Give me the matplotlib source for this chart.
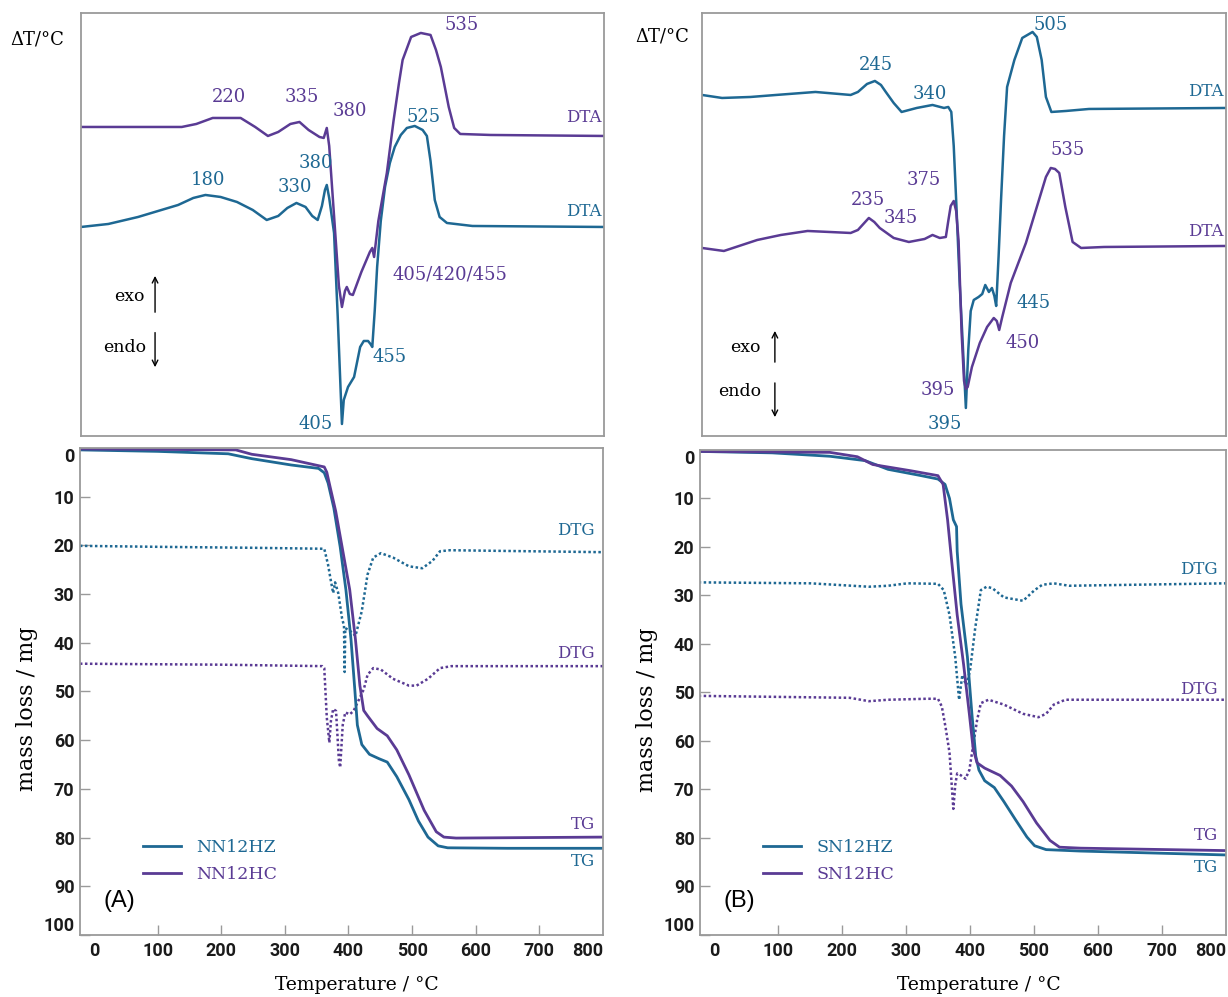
import matplotlib.pyplot as plt

# sample colours
c_hz = "#1e6893"
c_hc = "#5a3b94"
frame = "#9a9a9a"
serif = "DejaVu Serif"

# ---------- (A) DTA ----------
a_dta_hz_t = [-25, 20, 69, 135, 160, 180, 205, 232, 258, 281, 300, 315, 330, 345, 356, 365, 372, 377, 380,
              384, 392, 398, 405, 408, 415, 425, 435, 441, 448, 452, 455, 459, 463, 469, 476, 484, 492, 502,
              512, 525, 538, 545, 551, 558, 566, 578, 620, 838]
a_dta_hz_v = [20.9, 21.2, 21.9, 23.1, 23.8, 24.1, 23.9, 23.4, 22.6, 21.6, 22.0, 22.8, 23.3, 22.9, 22.0, 21.6,
              23.0, 24.6, 25.1, 23.8, 20.3, 12.0, 1.2, 3.6, 4.9, 5.9, 8.9, 9.5, 9.5, 9.2, 8.9, 12.5, 16.9,
              21.5, 24.9, 27.3, 28.9, 30.1, 30.8, 31.0, 30.6, 30.0, 27.5, 23.6, 21.9, 21.3, 21.0, 20.9]
a_dta_hc_t = [-25, 141, 165, 192, 238, 262, 283, 300, 320, 335, 350, 368, 375, 380, 384, 392, 400, 405, 410,
              413, 418, 423, 437, 451, 455, 458, 465, 479, 490, 499, 505, 519, 535, 551, 560, 568, 581, 590,
              600, 650, 838]
a_dta_hc_v = [30.9, 30.9, 31.2, 31.8, 31.8, 30.9, 30.0, 30.4, 31.2, 31.4, 30.6, 29.9, 29.8, 30.8, 29.0, 22.0,
              15.0, 12.9, 14.5, 14.9, 14.2, 14.1, 16.4, 18.4, 18.8, 17.9, 21.5, 26.3, 31.5, 35.3, 37.6, 39.9,
              40.3, 40.1, 38.6, 36.9, 32.9, 30.8, 30.2, 30.1, 30.0]

# ---------- (B) DTA ----------
b_dta_hz_t = [-40, -7, 40, 82, 147, 205, 217, 232, 245, 255, 263, 276, 289, 314, 340, 359, 366, 371, 375,
              379, 385, 389, 395, 399, 403, 408, 416, 422, 427, 433, 438, 442, 445, 449, 453, 458, 463, 475,
              488, 505, 512, 520, 527, 536, 560, 598, 824]
b_dta_hz_v = [34.1, 33.8, 33.9, 34.1, 34.4, 34.1, 34.4, 35.2, 35.5, 35.1, 34.4, 33.3, 32.4, 32.8, 33.1, 32.8,
              32.9, 32.4, 29.0, 23.6, 15.0, 10.3, 2.8, 8.6, 12.5, 13.6, 13.9, 14.2, 15.1, 14.4, 14.8, 14.0,
              13.0, 18.0, 23.6, 30.0, 34.9, 37.6, 39.8, 40.4, 39.9, 37.6, 33.9, 32.4, 32.5, 32.7, 32.8]
b_dta_hc_t = [-40, -4, 51, 90, 134, 170, 205, 217, 235, 244, 253, 276, 301, 327, 340, 352, 362, 366, 370,
              375, 379, 383, 388, 392, 395, 398, 405, 418, 430, 441, 446, 450, 455, 469, 494, 507, 527, 535,
              542, 549, 559, 571, 585, 623, 824]
b_dta_hc_v = [18.8, 18.5, 19.6, 20.1, 20.5, 20.4, 20.3, 20.6, 21.8, 21.4, 20.8, 19.8, 19.4, 19.7, 20.1, 19.8,
              19.9, 21.5, 23.0, 23.5, 22.5, 19.5, 10.3, 5.5, 4.7, 4.9, 6.9, 9.3, 10.9, 11.8, 11.5, 10.6, 11.9,
              15.3, 19.3, 21.9, 25.9, 26.8, 26.7, 26.3, 22.9, 19.4, 18.8, 18.9, 19.0]

# ---------- (A) TG / DTG ----------
a_tg_hz_t = [-22, 100, 211, 248, 310, 353, 362, 368, 377, 387, 396, 404, 410, 414, 421, 433, 448, 461, 476,
             495, 510, 525, 541, 556, 650, 800]
a_tg_hz_m = [0.4, 0.7, 1.2, 2.2, 3.5, 4.2, 5.1, 7.2, 12.3, 20.3, 29.1, 39.3, 49.6, 56.9, 60.9, 62.9, 63.8,
             64.5, 67.5, 72.2, 76.6, 79.9, 81.7, 82.1, 82.2, 82.2]
a_tg_hc_t = [-22, 100, 223, 248, 310, 362, 366, 371, 380, 390, 402, 411, 418, 424, 430, 445, 461, 476, 495,
             519, 538, 550, 569, 800]
a_tg_hc_m = [0.2, 0.3, 0.4, 1.3, 2.4, 3.9, 5.0, 7.9, 13.0, 20.3, 29.1, 39.3, 48.8, 53.9, 55.0, 57.6, 59.1,
             62.0, 67.1, 74.4, 78.8, 79.9, 80.1, 79.9]
a_dtg_hz_t = [-22, 100, 250, 362, 368, 372, 376, 379, 384, 390, 393, 394, 395, 402, 408, 411, 421, 430, 439,
              451, 470, 495, 516, 532, 544, 560, 800]
a_dtg_hz_m = [20.1, 20.3, 20.5, 20.7, 24.0, 27.0, 29.8, 27.6, 29.8, 35.0, 36.5, 46.0, 37.0, 37.5, 38.2, 38.6,
              33.5, 26.0, 22.5, 21.6, 22.5, 24.3, 24.7, 23.2, 21.2, 21.0, 21.4]
a_dtg_hc_t = [-22, 200, 359, 362, 366, 370, 372.5, 376, 380.5, 385, 387, 391, 395, 402, 408, 416, 424, 430,
              439, 451, 470, 495, 507, 525, 544, 562, 800]
a_dtg_hc_m = [44.3, 44.5, 44.8, 45.2, 55.4, 60.5, 56.0, 53.6, 54.0, 64.2, 65.6, 56.9, 54.3, 54.7, 54.0, 51.8,
              49.6, 46.6, 45.2, 45.5, 47.4, 48.8, 48.8, 47.4, 45.2, 44.8, 44.8]

# ---------- (B) TG / DTG ----------
b_tg_hz_t = [-24, 91, 181, 236, 272, 320, 350, 361, 368, 374, 379, 380, 386, 396, 403, 409, 414, 423, 438,
             453, 471, 489, 501, 519, 573, 800]
b_tg_hz_m = [0.3, 0.6, 1.3, 2.2, 4.0, 5.2, 6.0, 7.1, 10.0, 14.4, 15.8, 20.9, 31.8, 42.7, 54.4, 63.1, 66.0,
             68.2, 69.6, 72.5, 76.2, 79.8, 81.6, 82.4, 82.7, 83.5]
b_tg_hc_t = [-24, 181, 224, 248, 308, 350, 358, 365, 371, 380, 390, 399, 405, 411, 423, 447, 465, 483, 504,
             525, 540, 573, 800]
b_tg_hc_m = [0.3, 0.5, 1.4, 3.0, 4.3, 5.3, 7.1, 14.4, 22.4, 34.0, 44.2, 54.4, 61.6, 64.5, 65.6, 67.1, 69.3,
             72.5, 76.9, 80.5, 81.9, 82.1, 82.6]
b_dtg_hz_t = [-24, 151, 242, 272, 302, 350, 359, 368, 377, 383, 388, 394, 400, 408, 417, 426, 435, 453, 483,
              501, 513, 531, 555, 800]
b_dtg_hz_m = [27.3, 27.5, 28.2, 28.0, 27.5, 27.6, 28.9, 34.0, 42.7, 51.5, 46.4, 48.5, 45.6, 36.9, 28.9, 28.2,
              28.5, 30.4, 31.1, 28.9, 27.8, 27.5, 28.0, 27.5]
b_dtg_hc_t = [-24, 212, 242, 272, 332, 350, 356, 362, 368, 374, 377, 380, 386, 393, 399, 405, 411, 417, 429,
              453, 483, 507, 519, 531, 549, 800]
b_dtg_hc_m = [50.7, 51.1, 51.8, 51.5, 51.3, 51.3, 52.9, 57.3, 62.4, 74.0, 69.0, 66.7, 67.1, 67.8, 66.0, 60.9,
              55.8, 52.2, 51.5, 52.5, 54.4, 55.1, 54.4, 52.5, 51.5, 51.5]

# peak labels: (text, T, y, colour)
a_peaks = [("220", 219, 33.9, c_hc), ("335", 339, 33.9, c_hc), ("380", 418, 32.5, c_hc),
           ("535", 603, 41.1, c_hc), ("525", 540, 31.9, c_hz), ("180", 184, 25.6, c_hz),
           ("330", 328, 24.9, c_hz), ("380", 362, 27.3, c_hz), ("405/420/455", 583, 16.1, c_hc),
           ("455", 484, 7.9, c_hz), ("405", 362, 1.2, c_hz)]
b_peaks = [("245", 247, 37.1, c_hz), ("340", 336, 34.2, c_hz), ("505", 534, 41.1, c_hz),
           ("535", 563, 28.6, c_hc), ("375", 326, 25.6, c_hc), ("235", 234, 23.6, c_hc),
           ("345", 287, 21.8, c_hc), ("445", 506, 13.3, c_hz), ("450", 488, 9.3, c_hc),
           ("395", 348, 4.6, c_hc), ("395", 361, 1.2, c_hz)]

fig = plt.figure(figsize=(12.28, 9.97), dpi=100)


def style_frame(ax):
    for s in ax.spines.values():
        s.set_color(frame)
        s.set_linewidth(1.3)


def dta_panel(rect, xlim, hz, hc, peaks, lab_hz, lab_hc, arrows):
    ax = fig.add_axes(rect)
    ax.plot(hz[0], hz[1], color=c_hz, lw=1.8)
    ax.plot(hc[0], hc[1], color=c_hc, lw=1.8)
    ax.set_xlim(*xlim)
    ax.set_ylim(0, 42.3)
    ax.set_xticks([])
    ax.set_yticks([])
    style_frame(ax)
    for txt, t, y, col in peaks:
        ax.text(t, y, txt, color=col, fontsize=13, family=serif, ha="center", va="center")
    ax.text(xlim[1] - 4, lab_hz, "DTA", color=c_hz, fontsize=12, family=serif, ha="right", va="center")
    ax.text(xlim[1] - 4, lab_hc, "DTA", color=c_hc, fontsize=12, family=serif, ha="right", va="center")
    # exo / endo direction marks
    ex, ey, ax_x, up0, up1, en_x, en_y, dn0, dn1 = arrows
    ax.text(ex, ey, "exo", transform=ax.transAxes, fontsize=12.5, family=serif, ha="center", va="center")
    ax.text(en_x, en_y, "endo", transform=ax.transAxes, fontsize=12.5, family=serif, ha="center", va="center")
    ax.annotate("", xy=(ax_x, up1), xytext=(ax_x, up0), xycoords="axes fraction",
                arrowprops=dict(arrowstyle="->", color="black", lw=1.0))
    ax.annotate("", xy=(ax_x, dn1), xytext=(ax_x, dn0), xycoords="axes fraction",
                arrowprops=dict(arrowstyle="->", color="black", lw=1.0))
    return ax


def tg_panel(rect, hz_tg, hc_tg, hz_dtg, hc_dtg, names, labels, letter):
    ax = fig.add_axes(rect)
    ax.plot(hz_dtg[0], hz_dtg[1], color=c_hz, lw=1.8, ls=(0, (1, 1)))
    ax.plot(hc_dtg[0], hc_dtg[1], color=c_hc, lw=1.8, ls=(0, (1, 1)))
    l1, = ax.plot(hz_tg[0], hz_tg[1], color=c_hz, lw=2.0)
    l2, = ax.plot(hc_tg[0], hc_tg[1], color=c_hc, lw=2.0)
    ax.set_xlim(-22, 800)
    ax.set_ylim(100, 0)
    ax.set_xticks(range(0, 801, 100))
    ax.set_yticks(range(0, 101, 10))
    ax.tick_params(direction="in", length=7, width=1.0, color=frame, labelsize=13, pad=5,
                   labelcolor="#1a1a1a")
    ax.tick_params(axis="y", pad=4)
    xlabs = ax.get_xticklabels()
    ylabs = ax.get_yticklabels()
    for lab in xlabs + ylabs:
        lab.set_family("Roboto")
        lab.set_weight("bold")
    # end labels pulled inside the frame
    xlabs[-1].set_horizontalalignment("right")
    ylabs[0].set_verticalalignment("top")
    ylabs[-1].set_verticalalignment("bottom")
    xt = ax.xaxis.get_major_ticks()
    xt[0].tick1line.set_visible(False)
    xt[-1].tick1line.set_visible(False)
    style_frame(ax)
    ax.set_xlabel("Temperature / °C", family=serif, fontsize=13.5)
    ax.xaxis.set_label_coords(0.53, -0.085)
    ax.set_ylabel("mass loss / mg", family=serif, fontsize=16)
    ax.yaxis.set_label_coords(-0.08, 0.465)
    for txt, y, col in labels:
        ax.text(787, y, txt, color=col, fontsize=12, family=serif, ha="right", va="center")
    leg = ax.legend([l1, l2], names, loc="lower left", bbox_to_anchor=(0.09, 0.075), frameon=False,
                    handlelength=2.2, handletextpad=0.9, labelspacing=0.55,
                    prop={"family": serif, "size": 12.5})
    for t, c in zip(leg.get_texts(), [c_hz, c_hc]):
        t.set_color(c)
    ax.text(0.075, 0.07, letter, transform=ax.transAxes, fontsize=17, family="Liberation Sans",
            ha="center", va="center")
    return ax


dta_panel([0.0660, 0.5627, 0.4259, 0.4243], (-25, 837),
          (a_dta_hz_t, a_dta_hz_v), (a_dta_hc_t, a_dta_hc_v), a_peaks, 22.4, 31.8,
          (0.092, 0.329, 0.1415, 0.286, 0.385, 0.084, 0.210, 0.251, 0.156))
dta_panel([0.5717, 0.5627, 0.4267, 0.4243], (-40, 824),
          (b_dta_hz_t, b_dta_hz_v), (b_dta_hc_t, b_dta_hc_v), b_peaks, 34.4, 20.4,
          (0.082, 0.208, 0.139, 0.168, 0.255, 0.071, 0.104, 0.132, 0.038))

tg_panel([0.0651, 0.0622, 0.4259, 0.4885],
         (a_tg_hz_t, a_tg_hz_m), (a_tg_hc_t, a_tg_hc_m), (a_dtg_hz_t, a_dtg_hz_m), (a_dtg_hc_t, a_dtg_hc_m),
         ["NN12HZ", "NN12HC"],
         [("DTG", 17.0, c_hz), ("DTG", 42.3, c_hc), ("TG", 77.3, c_hc), ("TG", 85.0, c_hz)], "(A)")
tg_panel([0.5700, 0.0622, 0.4283, 0.4865],
         (b_tg_hz_t, b_tg_hz_m), (b_tg_hc_t, b_tg_hc_m), (b_dtg_hz_t, b_dtg_hz_m), (b_dtg_hc_t, b_dtg_hc_m),
         ["SN12HZ", "SN12HC"],
         [("DTG", 24.7, c_hz), ("DTG", 49.4, c_hc), ("TG", 79.5, c_hc), ("TG", 86.0, c_hz)], "(B)")

fig.text(0.030, 0.960, "ΔT/°C", family=serif, fontsize=13, ha="center", va="center")
fig.text(0.539, 0.963, "ΔT/°C", family=serif, fontsize=13, ha="center", va="center")

fig.savefig("out.png", dpi=100)
